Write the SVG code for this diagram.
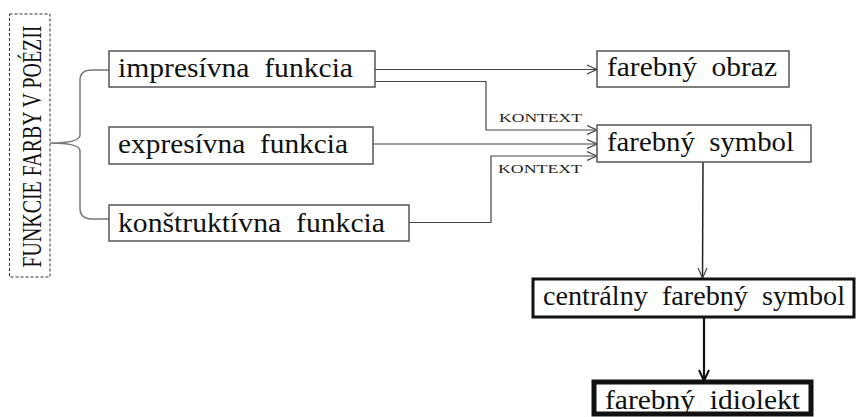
<svg xmlns="http://www.w3.org/2000/svg" width="864" height="417" viewBox="0 0 864 417">
<style>
.bx{fill:#fff;stroke:#555;stroke-width:1.5}
.t{font-family:"Liberation Serif","Times New Roman",serif;font-size:27px;fill:#111;white-space:pre}
.k{font-family:"Liberation Serif","Times New Roman",serif;font-size:13px;fill:#222}
.c{fill:none;stroke:#444;stroke-width:1.2}
</style>
<defs>
<marker id="ar" markerUnits="userSpaceOnUse" markerWidth="12" markerHeight="12" refX="10" refY="6" orient="auto">
<path d="M0,1.5 L10,6 L0,10.5" fill="none" stroke="#444" stroke-width="1.2"/>
</marker>
<marker id="ar2" markerUnits="userSpaceOnUse" markerWidth="14" markerHeight="14" refX="12" refY="7" orient="auto">
<path d="M1,2 L12,7 L1,12" fill="none" stroke="#111" stroke-width="2"/>
</marker>
</defs>
<rect width="864" height="417" fill="#fff"/>
<g id="title">
<rect x="9.5" y="14" width="40.5" height="263" fill="#fff" stroke="#333" stroke-width="1" stroke-dasharray="3,2"/>
<text class="t" font-size="26" transform="translate(41,146.5) rotate(-90)" text-anchor="middle" textLength="242" lengthAdjust="spacingAndGlyphs">FUNKCIE FARBY V POÉZII</text>
</g>
<g id="connectors">
<path d="M50,143 Q80,143 80,135 L80,80 Q80,70 92,70 L109,70 M50,143 Q80,143 80,151 L80,208 Q80,219 92,219 L109,219" fill="none" stroke="#777" stroke-width="1.5"/>
<path class="c" d="M375,69.5 L597,69.5" marker-end="url(#ar)"/>
<path class="c" d="M375,81.5 L486,81.5 L486,130 L597,130" marker-end="url(#ar)"/>
<path class="c" d="M373,144 L597,144" marker-end="url(#ar)"/>
<path class="c" d="M409,222.5 L491,222.5 L491,156 L597,156" marker-end="url(#ar)"/>
<path d="M703,162 L702.5,278" fill="none" stroke="#222" stroke-width="1.5" marker-end="url(#ar)"/>
<path d="M704,317 L704,381" fill="none" stroke="#111" stroke-width="2.2" marker-end="url(#ar2)"/>
<text class="k" x="499" y="121.5" textLength="83" lengthAdjust="spacingAndGlyphs">KONTEXT</text>
<text class="k" x="498" y="172.5" textLength="84" lengthAdjust="spacingAndGlyphs">KONTEXT</text>
</g>
<g id="impresivna">
<rect class="bx" x="109" y="51" width="266" height="36"/>
<text class="t" x="118" y="77" textLength="235" lengthAdjust="spacingAndGlyphs" xml:space="preserve">impresívna  funkcia</text>
</g>
<g id="expresivna">
<rect class="bx" x="109" y="127" width="264" height="37"/>
<text class="t" x="118" y="153" textLength="230" lengthAdjust="spacingAndGlyphs" xml:space="preserve">expresívna  funkcia</text>
</g>
<g id="konstruktivna">
<rect class="bx" x="109" y="205" width="300" height="36"/>
<text class="t" x="118" y="232" textLength="267" lengthAdjust="spacingAndGlyphs" xml:space="preserve">konštruktívna  funkcia</text>
</g>
<g id="obraz">
<rect class="bx" x="597" y="51" width="192" height="36"/>
<text class="t" x="607" y="76" textLength="170" lengthAdjust="spacingAndGlyphs" xml:space="preserve">farebný  obraz</text>
</g>
<g id="symbol">
<rect class="bx" x="597" y="125" width="214" height="37"/>
<text class="t" x="607" y="151" textLength="187" lengthAdjust="spacingAndGlyphs" xml:space="preserve">farebný  symbol</text>
</g>
<g id="centralny">
<rect x="533" y="279" width="321" height="38" fill="#fff" stroke="#111" stroke-width="3"/>
<text class="t" x="543" y="305" textLength="302" lengthAdjust="spacingAndGlyphs" xml:space="preserve">centrálny  farebný  symbol</text>
</g>
<g id="idiolekt">
<rect x="594" y="382" width="217" height="32" fill="#fff" stroke="#111" stroke-width="5"/>
<text class="t" x="605" y="409" textLength="195" lengthAdjust="spacingAndGlyphs" xml:space="preserve">farebný  idiolekt</text>
</g>
</svg>
